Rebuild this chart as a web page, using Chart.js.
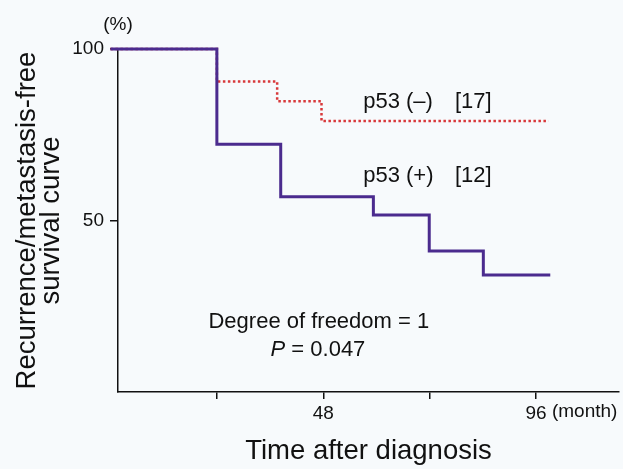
<!DOCTYPE html>
<html>
<head>
<meta charset="utf-8">
<script src="https://cdn.jsdelivr.net/npm/chart.js@4.4.1/dist/chart.umd.min.js"></script>
<style>
  html, body { margin: 0; padding: 0; background: #f7fafc; }
  canvas { display: block; }
</style>
</head>
<body>
<canvas id="kmChart" width="623" height="469"></canvas>
<script>
// Kaplan-Meier steps (months, % free of recurrence/metastasis)
const posMonths = [0, 24, 38.4, 59.3, 71.9, 84.1, 99.2];
const posSurvival = [100, 72.2, 56.9, 51.6, 41.1, 34.1, 34.1];
const negMonths = [0, 24, 37.6, 47.6, 98.8];
const negSurvival = [100, 90.5, 84.8, 79.0, 79.0];

const xTicks = [24, 48, 72, 96];
const xTickLabels = ['', '48', '', '96'];
const yTicks = [50, 100];
const yTickLabels = ['50', '100'];

const FONT = '"Liberation Sans", Arial, Helvetica, sans-serif';
const INK = '#111111';

function toPoints(xs, ys) {
  return xs.map((v, i) => ({ x: v, y: ys[i] }));
}

// text that sits inside the plot, anchored in data units
const annotations = {
  id: 'annotations',
  afterDraw(chart) {
    const { ctx, chartArea, scales: { x, y } } = chart;
    ctx.save();
    ctx.fillStyle = INK;
    ctx.textBaseline = 'alphabetic';

    ctx.font = '22px ' + FONT;
    ctx.textAlign = 'left';
    ctx.fillText('p53 (\u2013)', x.getPixelForValue(57), y.getPixelForValue(82.8));
    ctx.fillText('[17]', x.getPixelForValue(77.7), y.getPixelForValue(82.8));
    ctx.fillText('p53 (+)', x.getPixelForValue(57), y.getPixelForValue(61.2));
    ctx.fillText('[12]', x.getPixelForValue(77.7), y.getPixelForValue(61.2));

    ctx.textAlign = 'center';
    ctx.fillText('Degree of freedom = 1', x.getPixelForValue(47), y.getPixelForValue(18.7));

    // italic P followed by the value, centred as one string
    const cx = x.getPixelForValue(46.8);
    const by = y.getPixelForValue(10.5);
    ctx.font = 'italic 22px ' + FONT;
    const wP = ctx.measureText('P').width;
    ctx.font = '22px ' + FONT;
    const rest = ' = 0.047';
    const wR = ctx.measureText(rest).width;
    const start = cx - (wP + wR) / 2;
    ctx.textAlign = 'left';
    ctx.font = 'italic 22px ' + FONT;
    ctx.fillText('P', start, by);
    ctx.font = '22px ' + FONT;
    ctx.fillText(rest, start + wP, by);

    // unit labels
    ctx.font = '19px ' + FONT;
    ctx.textAlign = 'center';
    ctx.textBaseline = 'middle';
    ctx.fillText('(%)', chartArea.left, 25);

    ctx.textBaseline = 'top';
    ctx.textAlign = 'left';
    const w96 = ctx.measureText('96').width;
    const sp = ctx.measureText(' ').width;
    ctx.fillText('(month)', x.getPixelForValue(96) + w96 / 2 + sp, x.top + 7 + 3);
    ctx.restore();
  }
};

new Chart(document.getElementById('kmChart').getContext('2d'), {
  type: 'line',
  data: {
    datasets: [
      {
        label: 'p53 (+)',
        data: toPoints(posMonths, posSurvival),
        borderColor: '#4b2b8e',
        borderWidth: 3,
        stepped: true,
        pointRadius: 0,
        fill: false,
        clip: false
      },
      {
        label: 'p53 (\u2013)',
        data: toPoints(negMonths, negSurvival),
        borderColor: '#d8383a',
        borderWidth: 2.5,
        borderDash: [2.5, 2.5],
        stepped: true,
        pointRadius: 0,
        fill: false,
        clip: false
      }
    ]
  },
  options: {
    responsive: false,
    animation: false,
    layout: { padding: { top: 49, right: 4, left: 0, bottom: 0 } },
    plugins: {
      legend: { display: false },
      tooltip: { enabled: false }
    },
    scales: {
      x: {
        type: 'linear',
        min: 1.7,
        max: 114.7,
        afterBuildTicks: (scale) => { scale.ticks = xTicks.map(v => ({ value: v })); },
        afterFit: (scale) => { scale.height = 77; },
        ticks: {
          autoSkip: false,
          maxRotation: 0,
          padding: 3,
          color: INK,
          font: { family: FONT, size: 19 },
          callback: (v) => xTickLabels[xTicks.indexOf(v)]
        },
        grid: { drawOnChartArea: false, drawTicks: true, tickLength: 7, color: INK, lineWidth: 1.5 },
        border: { display: true, color: INK, width: 1.5 },
        title: {
          display: true,
          text: 'Time after diagnosis',
          color: INK,
          font: { family: FONT, size: 27.5 },
          padding: { top: 0, bottom: 1 }
        }
      },
      y: {
        type: 'linear',
        min: 0,
        max: 100,
        afterBuildTicks: (scale) => { scale.ticks = yTicks.map(v => ({ value: v })); },
        afterFit: (scale) => { scale.width = 118; },
        ticks: {
          padding: 6,
          color: INK,
          font: { family: FONT, size: 19 },
          callback: (v) => yTickLabels[yTicks.indexOf(v)]
        },
        grid: { drawOnChartArea: false, drawTicks: true, tickLength: 8, color: INK, lineWidth: 1.5 },
        border: { display: true, color: INK, width: 1.5 },
        title: {
          display: true,
          text: ['Recurrence/metastasis-free', 'survival curve'],
          color: INK,
          font: { family: FONT, size: 27.5, lineHeight: 0.88 },
          padding: { top: 15, bottom: 0 }
        }
      }
    }
  },
  plugins: [annotations]
});
</script>
</body>
</html>
